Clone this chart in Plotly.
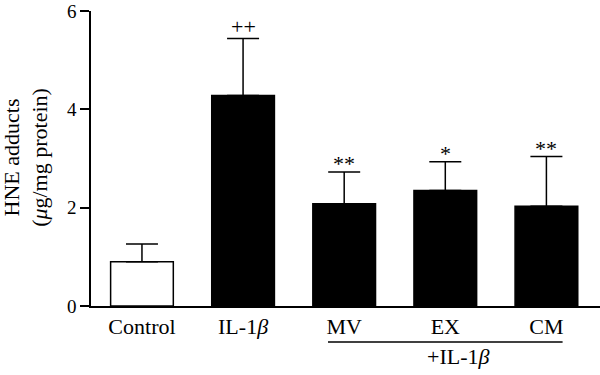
import plotly.graph_objects as go

categories = ["Control", "IL-1<i>β</i>", "MV", "EX", "CM"]
means = [0.90, 4.28, 2.08, 2.35, 2.03]
sems = [0.36, 1.16, 0.645, 0.585, 1.01]
marks = ["", "++", "**", "*", "**"]
colors = ["white", "black", "black", "black", "black"]
yticks = [0, 2, 4, 6]

FONT = "Liberation Serif"
FS = 22
xs = list(range(len(categories)))

fig = go.Figure()
fig.add_trace(go.Bar(
    x=xs, y=means, width=0.62,
    marker=dict(color=colors, line=dict(color="black", width=1.5)),
    error_y=dict(type="data", array=sems, arrayminus=[0]*len(sems), symmetric=False,
                 color="black", thickness=1.5, width=16),
    showlegend=False, hoverinfo="skip",
))

for i, (m, s, t) in enumerate(zip(means, sems, marks)):
    if t:
        fig.add_annotation(x=i, y=m + s, text=t, showarrow=False, xref="x", yref="y",
                           yanchor="bottom", yshift=-2 if "+" in t else -6,
                           font=dict(family=FONT, size=FS, color="black"))

# bracket under the IL-1β treated groups
fig.add_shape(type="line", xref="x", yref="paper", x0=2 - 0.16, x1=4 + 0.16,
              y0=-0.122, y1=-0.122, line=dict(color="black", width=1.5))
fig.add_annotation(x=3.13, y=-0.172, xref="x", yref="paper", text="+IL-1<i>β</i>",
                   showarrow=False, yanchor="middle",
                   font=dict(family=FONT, size=FS, color="black"))

fig.add_annotation(x=-0.128, y=0.505, xref="paper", yref="paper", textangle=-90,
                   text="HNE adducts<br>(<i>μ</i>g/mg protein)", showarrow=False,
                   xanchor="center", yanchor="middle",
                   font=dict(family=FONT, size=FS, color="black"))

fig.update_xaxes(tickmode="array", tickvals=xs, ticktext=categories, range=[-0.504, 4.53],
                 showline=True, linecolor="black", linewidth=1.5, ticks="",
                 showgrid=False, zeroline=False, automargin=False,
                 tickfont=dict(family=FONT, size=FS, color="black"))
fig.update_yaxes(range=[0, 6], tickvals=yticks, showline=True, linecolor="black", linewidth=1.5,
                 ticks="outside", ticklen=9, tickwidth=1.5, tickcolor="black",
                 showgrid=False, zeroline=False, automargin=False,
                 tickfont=dict(family=FONT, size=19, color="black"))

fig.update_layout(width=600, height=375, margin=dict(l=91, r=0, t=11, b=69),
                  plot_bgcolor="white", paper_bgcolor="white")

fig.write_html("out.html", config={"displayModeBar": False},
               post_script="document.body.style.margin='0';")
